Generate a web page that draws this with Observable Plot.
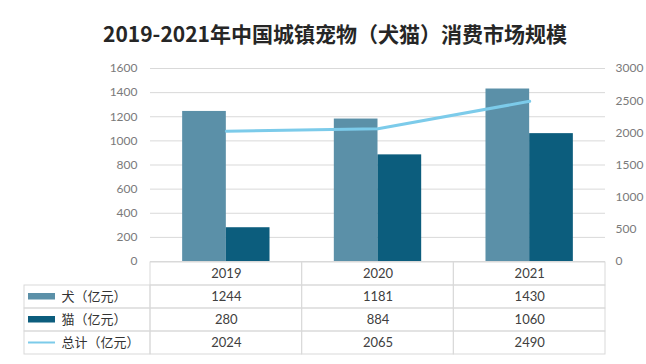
<!DOCTYPE html>
<html>
<head>
<meta charset="utf-8">
<script src="https://cdn.jsdelivr.net/npm/d3@7"></script>
<script src="https://cdn.jsdelivr.net/npm/@observablehq/plot@0.6"></script>
<style>
  html, body { margin: 0; padding: 0; background: #fff; }
  #wrap { position: relative; width: 646px; height: 364px; overflow: hidden; background: #fff;
          font-family: Lato, "Noto Sans CJK SC", sans-serif; }
  #title { position: absolute; left: 0; top: 20px; width: 646px; padding-left: 24px; box-sizing: border-box;
           text-align: center; font-size: 21px; line-height: 26px; font-weight: bold; color: #262626;
           font-family: "Noto Sans CJK SC", sans-serif; }
  #chart { position: absolute; left: 0; top: 56px; }
  #table { position: absolute; left: 0; top: 260px; }
</style>
</head>
<body>
<div id="wrap">
  <div id="title">2019-2021年中国城镇宠物（犬猫）消费市场规模</div>
  <div id="chart"></div>
  <div id="table"></div>
</div>
<script>
// ---- data ----
const years = [2019, 2020, 2021];
const dog = [1244, 1181, 1430];
const cat = [280, 884, 1060];
const total = [2024, 2065, 2490];
const seriesLabels = ["犬（亿元）", "猫（亿元）", "总计（亿元）"];
const leftTicks = [0, 200, 400, 600, 800, 1000, 1200, 1400, 1600];
const rightTicks = [0, 500, 1000, 1500, 2000, 2500, 3000];

// ---- styles ----
const cDog = "#5b90a8";
const cCat = "#0c5d7d";
const cTotal = "#7ccbea";
const cGrid = "#d9d9d9";
const barW = 0.288;          // bar width in year units
const k = 1600 / 3000;       // right-axis to left-axis transform

const rows = years.map((y, i) => ({year: y, dog: dog[i], cat: cat[i], total: total[i]}));

const W = 646, mL = 150, mR = 41;
const chart = Plot.plot({
  width: W, height: 308,
  marginTop: 12, marginBottom: 103, marginLeft: mL, marginRight: mR,
  style: {fontSize: "12px", color: "#7a7a7a", fontFamily: "Lato, 'Noto Sans CJK SC', sans-serif", background: "transparent", overflow: "visible"},
  x: {type: "linear", domain: [years[0] - 0.5, years[years.length - 1] + 0.5], axis: null},
  y: {domain: [0, 1600]},
  marks: [
    Plot.gridY(leftTicks, {stroke: cGrid, strokeOpacity: 1}),
    Plot.axisY(leftTicks, {tickSize: 0, tickPadding: 13, tickFormat: d => String(d)}),
    Plot.axisY(rightTicks.map(v => v * k), {anchor: "right", tickSize: 0, tickPadding: 10,
      tickFormat: d => String(Math.round(d / k))}),
    Plot.rectY(rows, {x1: d => d.year - barW, x2: d => d.year, y: "dog", fill: cDog}),
    Plot.rectY(rows, {x1: d => d.year, x2: d => d.year + barW, y: "cat", fill: cCat}),
    Plot.line(rows, {x: "year", y: d => d.total * k, stroke: cTotal, strokeWidth: 3})
  ]
});
document.getElementById("chart").appendChild(chart);

// ---- data table ----
const tL = 24;
const colW = (W - mL - mR) / years.length;
const x0 = years[0] - 0.5;
const xLab = x0 - (mL - tL) / colW;   // left edge of label column
const xEnd = years[years.length - 1] + 0.5;
const rowKeys = ["year", "dog", "cat", "total"];
const rowVals = {dog, cat, total};

const cells = [];
years.forEach(y => cells.push({x1: y - 0.5, x2: y + 0.5, row: "year"}));
["dog", "cat", "total"].forEach(r => {
  cells.push({x1: xLab, x2: x0, row: r});
  years.forEach(y => cells.push({x1: y - 0.5, x2: y + 0.5, row: r}));
});
const texts = [];
years.forEach((y, i) => {
  texts.push({x: y, row: "year", t: String(y)});
  ["dog", "cat", "total"].forEach(r => texts.push({x: y, row: r, t: String(rowVals[r][i])}));
});
const labels = ["dog", "cat", "total"].map((r, i) => ({row: r, t: seriesLabels[i]}));

const table = Plot.plot({
  width: W, height: 104,
  marginTop: 1, marginBottom: 9, marginLeft: tL, marginRight: mR,
  style: {fontSize: "13px", color: "#404040", fontFamily: "Lato, 'Noto Sans CJK SC', sans-serif", background: "transparent"},
  x: {type: "linear", domain: [xLab, xEnd], axis: null},
  y: {type: "band", domain: rowKeys, padding: 0, axis: null},
  marks: [
    Plot.barX(cells, {x1: "x1", x2: "x2", y: "row", fill: "none", stroke: cGrid, strokeWidth: 1}),
    Plot.text(texts, {x: "x", y: "row", text: "t", fill: "#404040"}),
    Plot.text(labels, {x: () => xLab, y: "row", text: "t", textAnchor: "start", dx: 37, fill: "#333"}),
    Plot.barX([{row: "dog"}], {x1: () => xLab, x2: () => x0, y: "row", fill: cDog, insetLeft: 4, insetRight: 95, insetTop: 8, insetBottom: 8.5}),
    Plot.barX([{row: "cat"}], {x1: () => xLab, x2: () => x0, y: "row", fill: cCat, insetLeft: 4, insetRight: 95, insetTop: 8, insetBottom: 8.5}),
    Plot.barX([{row: "total"}], {x1: () => xLab, x2: () => x0, y: "row", fill: cTotal, insetLeft: 4, insetRight: 95, insetTop: 10.5, insetBottom: 10.5})
  ]
});
document.getElementById("table").appendChild(table);
</script>
</body>
</html>
